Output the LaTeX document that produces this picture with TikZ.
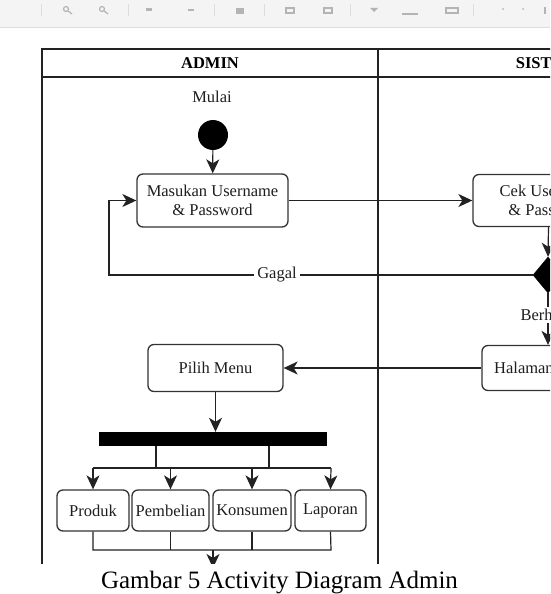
\documentclass[tikz,border=0pt]{standalone}
\usepackage{fontspec}
\setmainfont{Liberation Serif}
\usetikzlibrary{arrows.meta,shapes.geometric}
\definecolor{tbbg}{HTML}{F4F4F4}
\definecolor{tbline}{HTML}{DDDDDD}
\definecolor{tbicon}{HTML}{B4B4B4}
\definecolor{edge}{HTML}{222222}
\definecolor{boxline}{HTML}{333333}
\definecolor{txt}{HTML}{1E1E1E}
\tikzset{
  lbl/.style={font=\fontsize{16.5}{20}\selectfont, text=txt, inner sep=1pt},
  actbox/.style={draw=boxline, line width=1.3pt, rounded corners=6pt, fill=white,
    align=center, font=\fontsize{16.5}{20}\selectfont, text=txt, inner sep=0pt},
  flow/.style={draw=edge, line width=1.2pt},
  arr/.style={flow, -{Stealth[length=14pt,width=13pt,inset=4pt]}},
  lane/.style={draw=edge, line width=1.4pt},
  hdr/.style={font=\fontsize{16.5}{20}\selectfont\bfseries, text=black},
  tbsep/.style={draw=tbline, line width=0.8pt},
  tbic/.style={draw=tbicon, line width=1.2pt}
}
\begin{document}
\begin{tikzpicture}[x=1pt,y=-1pt]
\clip (0,0) rectangle (550,594);
\fill[white] (0,0) rectangle (550,594);
% toolbar
\fill[tbbg] (0,0) rectangle (550,27);
\draw[tbline, line width=0.8pt] (0,27) -- (550,27);
\foreach \sx in {41,128,214,264,350,473} \draw[tbsep] (\sx,4) -- (\sx,16);
\draw[tbic] (66,9) circle (2.5pt); \draw[tbic] (68,11) -- (72,14);
\draw[tbic] (102,9) circle (2.5pt); \draw[tbic] (104,11) -- (108,14);
\fill[tbicon] (146,8) rectangle (152,11);
\fill[tbicon] (188,9) rectangle (194,11);
\fill[tbicon] (236,8) rectangle (244,14);
\draw[tbic] (286,8) rectangle (294,13);
\draw[tbic] (324,8) rectangle (332,13);
\fill[tbicon] (370,8) -- (378,8) -- (374,12) -- cycle;
\fill[tbicon] (402,13) rectangle (418,15);
\draw[tbic] (446,8) rectangle (458,13);
\fill[tbicon] (503,9) circle (1pt); \fill[tbicon] (523,9) circle (1pt);
\fill[tbicon] (544,7) rectangle (546,14);
% swimlanes
\draw[lane] (42,564) -- (42,49) -- (720,49);
\draw[lane] (42,77) -- (720,77);
\draw[lane] (378,49) -- (378,564);
\node[hdr] (hadmin) at (210,63) {ADMIN};
\node[hdr] (hsistem) at (547,63) {SISTEM};
% nodes
\node[lbl] (mulai) at (212,97) {Mulai};
\node[circle, fill=black, minimum size=30pt, inner sep=0pt] (start) at (213,135) {};
\node[actbox, minimum width=151pt, minimum height=53pt] (masuk) at (212.5,200.5) {Masukan Username\\[-1pt]\& Password};
\node[actbox, minimum width=151pt, minimum height=52pt] (cek) at (548.5,200.5) {Cek Username\\[-1pt]\& Password};
\node[diamond, fill=black, draw=black, minimum width=30pt, minimum height=36pt, inner sep=0pt] (dec) at (548,275) {};
\node[actbox, minimum width=132pt, minimum height=45pt] (halaman) at (548,368) {Halaman Utama};
\node[actbox, minimum width=135pt, minimum height=47pt] (pilih) at (215.5,368) {Pilih Menu};
\node[fill=black, minimum width=228pt, minimum height=14pt, inner sep=0pt] (bar) at (213,439) {};
\node[actbox, minimum width=72pt, minimum height=41pt] (produk) at (93,510.5) {Produk};
\node[actbox, minimum width=77pt, minimum height=41pt] (pembelian) at (170.5,510.5) {Pembelian};
\node[actbox, minimum width=78pt, minimum height=41pt] (konsumen) at (252,510.5) {Konsumen};
\node[actbox, minimum width=71pt, minimum height=41pt] (laporan) at (330.5,510.5) {Laporan};
% coordinates
\coordinate (gl) at (109,275);
\coordinate (f1) at (156,468);
\coordinate (f2) at (269,468);
\coordinate (fl) at (93,468);
\coordinate (fr) at (331,468);
\coordinate (j1) at (93,550);
\coordinate (j2) at (331,550);
\coordinate (jm) at (213,550);
\coordinate (jend) at (213,568);
% connectors
\draw[arr] (start) -- (masuk);
\draw[arr] (masuk.east) -- (cek.west);
\draw[arr] (cek.south) -- (dec.north);
\draw[arr] (dec.west) -- (gl) |- (masuk.west);
\node[lbl, fill=white, inner sep=3pt] (gagal) at (277,275) {Gagal};
\draw[arr] (dec.south) -- (halaman.north);
\node[lbl, fill=white, inner sep=2pt] (berhasil) at (548,315) {Berhasil};
\draw[arr] (halaman.west) -- (pilih.east);
\draw[arr] (pilih.south) -- (pilih.south |- bar.north);
\draw[flow] (f1 |- bar.south) -- (f1);
\draw[flow] (f2 |- bar.south) -- (f2);
\draw[flow] (fl) -- (fr);
\draw[arr] (fl) -- (produk.north);
\draw[arr] (pembelian.north |- fl) -- (pembelian.north);
\draw[arr] (konsumen.north |- fl) -- (konsumen.north);
\draw[arr] (fr) -- (laporan.north);
\draw[flow] (produk.south) -- (j1) -- (j2) -- (laporan.south);
\draw[flow] (pembelian.south) -- (pembelian.south |- j1);
\draw[flow] (konsumen.south) -- (konsumen.south |- j1);
\draw[arr] (jm) -- (jend);
% caption band
\fill[white] (0,564) rectangle (550,594);
\node[font=\fontsize{25}{30}\selectfont, text=black, anchor=base, inner sep=0pt] (caption) at (279.5,588) {Gambar 5 Activity Diagram Admin};
\end{tikzpicture}
\end{document}
